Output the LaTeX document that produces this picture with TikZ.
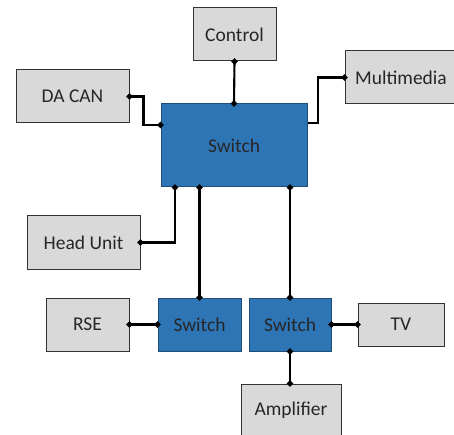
\documentclass[tikz,border=0pt]{standalone}
\usepackage{fontspec}
\setmainfont{Carlito}
\usepackage{xcolor}
\usetikzlibrary{arrows.meta}
\definecolor{boxgray}{HTML}{D9D9D9}
\definecolor{swblue}{HTML}{2E75B6}
\definecolor{swedge}{HTML}{1F4E79}
\definecolor{txt}{HTML}{262626}

\begin{document}
\begin{tikzpicture}[x=1pt,y=-1pt,
  every node/.style={font=\fontsize{19.5}{22}\selectfont,text=txt,inner sep=0pt},
  unit/.style={draw=black!80,line width=1pt,fill=boxgray,minimum height=53pt},
  switchbox/.style={draw=swedge,line width=1pt,fill=swblue,minimum height=53pt},
  link/.style={line width=2.1pt,line join=miter,{Circle[length=6pt]}-{Circle[length=6pt]},shorten <=-3pt,shorten >=-3pt},
  halflink/.style={line width=2.1pt,line join=miter,-{Circle[length=6pt]},shorten >=-3pt}]
\useasboundingbox (0,0) rectangle (454,435);
\node[switchbox,minimum width=146pt,minimum height=83pt] (sw) at (234,145.5) {Switch};
\node[unit,minimum width=83pt] (control) at (234.5,34.5) {Control};
\node[unit,minimum width=113pt] (dacan) at (72.5,96.5) {DA CAN};
\node[unit,minimum width=112pt] (media) at (401,77.5) {Multimedia};
\node[unit,minimum width=113pt] (head) at (83.5,242.5) {Head Unit};
\node[unit,minimum width=83pt] (rse) at (87.5,324.5) {RSE};
\node[switchbox,minimum width=83pt] (swl) at (199.5,324.5) {Switch};
\node[switchbox,minimum width=82pt] (swr) at (290,324.5) {Switch};
\node[unit,minimum width=86pt,minimum height=43pt] (tv) at (401,324.5) {TV};
\node[unit,minimum width=100pt] (amp) at (291,410.5) {Amplifier};
% links to the main switch
\draw[link] (control.south) -- (sw.north);
\draw[link] (dacan.east) -- ++(14,0) |- (sw.west |- 0,125);
\draw[halflink] (sw.east |- 0,123) -- (318,123) |- (media.west);
\draw[link] (sw.south -| 175,0) |- (head.east);
\draw[link] (sw.south -| swl.north) -- (swl.north);
\draw[link] (sw.south -| swr.north) -- (swr.north);
% links to the lower switches
\draw[link] (rse.east) -- (swl.west);
\draw[link] (swr.east) -- (tv.west);
\draw[link] (swr.south) -- (amp.north -| swr.south);
\end{tikzpicture}
\end{document}
